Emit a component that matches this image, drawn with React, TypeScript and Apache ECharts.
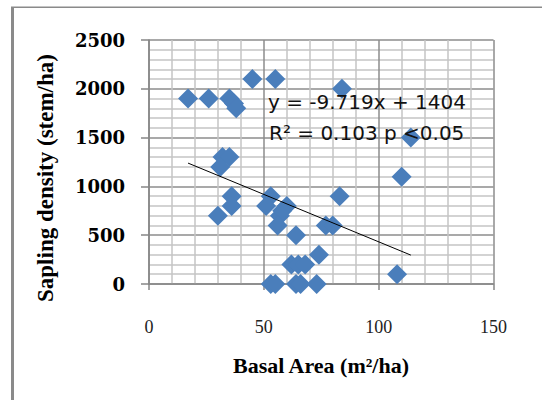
import React, { useEffect, useRef } from "react";
import * as echarts from "echarts";

const basalArea = [17, 26, 35, 37, 38, 45, 55, 84, 114, 110, 83, 32, 35, 31, 36, 36, 30, 53, 51, 60, 57, 58, 56, 64, 77, 80, 74, 108, 62, 65, 68, 53, 55, 64, 66, 73];
const saplingDensity = [1900, 1900, 1900, 1850, 1800, 2100, 2100, 2000, 1500, 1100, 900, 1300, 1300, 1200, 900, 800, 700, 900, 800, 800, 700, 750, 600, 500, 600, 600, 300, 100, 200, 200, 200, 0, 0, 0, 0, 0];
const trendSlope = -9.719;
const trendIntercept = 1404;
const equationText = "y = -9.719x + 1404";
const r2Text = "R² = 0.103 p <0.05";
const xTitle = "Basal Area (m²/ha)";
const yTitle = "Sapling density (stem/ha)";

export default function App() {
  const ref = useRef<HTMLDivElement>(null);
  useEffect(() => {
    if (!ref.current) return;
    const chart = echarts.init(ref.current, null, { renderer: "svg" });
    const pts = basalArea.map((x, i) => [x, saplingDensity[i]]);
    const xmin = Math.min(...basalArea);
    const xmax = Math.max(...basalArea);
    const trend = [
      [xmin, trendSlope * xmin + trendIntercept],
      [xmax, trendSlope * xmax + trendIntercept],
    ];
    chart.setOption({
      animation: false,
      backgroundColor: "#ffffff",
      grid: { left: 149, right: 48.5, top: 40, bottom: 116, containLabel: false },
      xAxis: {
        type: "value",
        min: 0,
        max: 150,
        interval: 50,
        axisLine: { show: true, onZero: false, lineStyle: { color: "#868686", width: 1.5 } },
        axisTick: { show: true, length: 6, lineStyle: { color: "#868686", width: 1.5 } },
        axisLabel: { margin: 34, fontFamily: "Liberation Serif", fontSize: 18, color: "#222", formatter: (v: number) => String(v) },
        splitLine: { show: true, lineStyle: { color: "#8c8c8c", width: 1.5 } },
        minorTick: { show: false, splitNumber: 5 },
        minorSplitLine: { show: true, lineStyle: { color: "#c4c4c4", width: 1.5 } },
      },
      yAxis: {
        type: "value",
        min: 0,
        max: 2500,
        interval: 500,
        axisLine: { show: true, onZero: false, lineStyle: { color: "#868686", width: 1.5 } },
        axisTick: { show: true, length: 8, lineStyle: { color: "#868686", width: 1.5 } },
        axisLabel: { margin: 24, fontFamily: "DejaVu Serif", fontWeight: "bold", fontSize: 18, color: "#000", formatter: (v: number) => String(v) },
        splitLine: { show: true, lineStyle: { color: "#8c8c8c", width: 1.5 } },
        minorTick: { show: false, splitNumber: 5 },
        minorSplitLine: { show: true, lineStyle: { color: "#c4c4c4", width: 1.5 } },
      },
      series: [
        {
          type: "scatter",
          data: pts,
          symbol: "diamond",
          symbolSize: 20,
          itemStyle: { color: "#4A7EBB", opacity: 1 },
          z: 3,
        },
        {
          type: "line",
          data: trend,
          symbol: "none",
          lineStyle: { color: "#000", width: 1 },
          z: 4,
        },
      ],
      graphic: [
        { type: "rect", z: 100, shape: { x: 11, y: 7, width: 3, height: 400 }, style: { fill: "#8a8a8a" } },
        { type: "rect", z: 100, shape: { x: 11, y: 6.5, width: 531, height: 1.5 }, style: { fill: "#8a8a8a" } },
        {
          type: "text", z: 100, x: 268, y: 102,
          style: { text: equationText, font: 'normal 20px "DejaVu Sans"', fill: "#111", align: "left", verticalAlign: "middle" },
        },
        {
          type: "text", z: 100, x: 269, y: 133,
          style: { text: r2Text, font: 'normal 20px "DejaVu Sans"', fill: "#111", align: "left", verticalAlign: "middle" },
        },
        {
          type: "text", z: 100, x: 321, y: 365,
          style: { text: xTitle, font: 'bold 22px "Liberation Serif"', fill: "#000", align: "center", verticalAlign: "middle" },
        },
        {
          type: "text", z: 100, x: 45, y: 178, rotation: Math.PI / 2,
          style: { text: yTitle, font: 'bold 23px "Liberation Serif"', fill: "#000", align: "center", verticalAlign: "middle" },
        },
      ],
    });
    return () => chart.dispose();
  }, []);
  return (
    <div
      ref={ref}
      style={{ position: "fixed", left: 0, top: 0, width: 542, height: 400, background: "#fff" }}
    />
  );
}
